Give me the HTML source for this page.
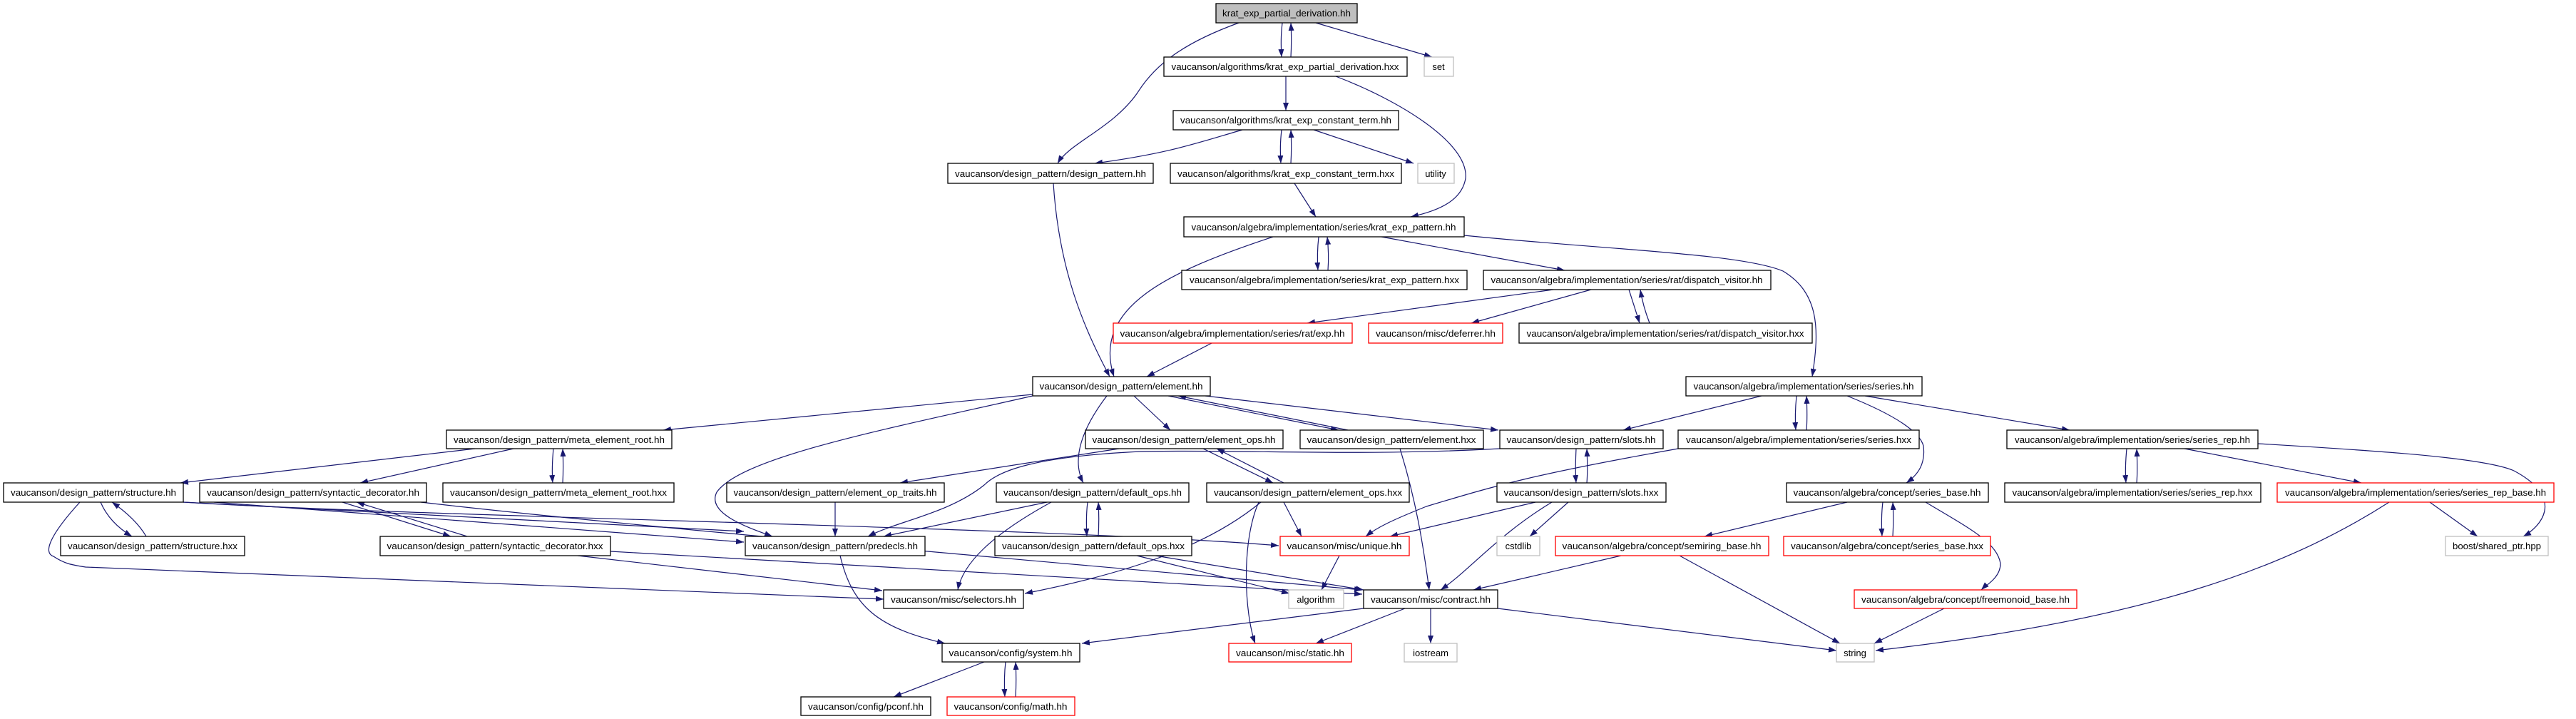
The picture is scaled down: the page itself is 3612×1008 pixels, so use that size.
<!DOCTYPE html>
<html><head><meta charset="utf-8"><style>
html,body{margin:0;padding:0;background:#fff;}
svg{display:block;}
text{font-family:"Liberation Sans",Arial,sans-serif;font-size:13px;fill:#000;}
.n{fill:#fff;stroke:#000;stroke-width:1.3;}
.r{fill:#fff;stroke:#ff0000;stroke-width:1.3;}
.g{fill:#fff;stroke:#bfbfbf;stroke-width:1.3;}
.e{fill:none;stroke:#191970;stroke-width:1.2;}
</style></head><body>
<svg width="3612" height="1008" viewBox="0 0 3612 1008" xmlns="http://www.w3.org/2000/svg">
<defs><marker id="a" markerWidth="11" markerHeight="8" refX="11" refY="4" orient="auto" markerUnits="userSpaceOnUse"><path d="M0,0 L11,4 L0,8 z" fill="#191970"/></marker></defs>
<g class="e" marker-end="url(#a)">
<path d="M1798,32 C1796,50 1796,62 1797,80"/>
<path d="M1810,80 C1811,62 1811,50 1810,32"/>
<path d="M1845,32 L2008,80"/>
<path d="M1737,32 C1660,60 1620,90 1595,130 C1560,180 1500,200 1483,229"/>
<path d="M1803,107 L1803,155"/>
<path d="M1873,107 C1960,140 2060,200 2055,250 C2050,280 2020,295 1978,304"/>
<path d="M1742,182 C1680,200 1640,215 1535,229"/>
<path d="M1797,182 C1795,200 1795,212 1796,229"/>
<path d="M1810,229 C1811,212 1811,200 1810,182"/>
<path d="M1842,182 L1982,229"/>
<path d="M1815,257 L1845,304"/>
<path d="M1477,257 C1485,380 1520,460 1556,528"/>
<path d="M1849,332 C1847,350 1847,365 1848,379"/>
<path d="M1862,379 C1863,365 1863,350 1861,332"/>
<path d="M1937,332 L2194,379"/>
<path d="M1785,332 C1640,380 1530,430 1562,528"/>
<path d="M2053,330 C2250,350 2440,355 2500,380 C2550,410 2552,460 2541,528"/>
<path d="M2178,406 L1833,453"/>
<path d="M2231,406 L2063,453"/>
<path d="M2284,406 C2290,425 2295,440 2299,453"/>
<path d="M2313,453 C2308,440 2303,425 2300,406"/>
<path d="M1699,481 L1608,528"/>
<path d="M1448,553 L930,603"/>
<path d="M1448,555 C1250,600 1040,640 1005,690 C990,720 1050,740 1083,752"/>
<path d="M1590,555 L1641,603"/>
<path d="M1552,555 C1510,610 1505,650 1519,677"/>
<path d="M1638,555 L1877,603"/>
<path d="M1890,603 L1652,555"/>
<path d="M1690,555 L2101,603"/>
<path d="M666,629 L253,677"/>
<path d="M720,629 L505,677"/>
<path d="M776,629 C774,650 774,665 775,677"/>
<path d="M789,677 C790,660 790,650 789,629"/>
<path d="M141,704 C150,725 165,740 185,752"/>
<path d="M205,752 C195,735 180,720 157,704"/>
<path d="M257,704 L1043,745"/>
<path d="M300,704 L1043,760"/>
<path d="M257,704 C600,725 1500,740 1793,765"/>
<path d="M112,704 C70,750 60,775 75,780 C90,790 100,792 120,795 L1239,840"/>
<path d="M480,704 L632,752"/>
<path d="M655,752 L500,704"/>
<path d="M590,704 C900,740 1500,790 1910,827"/>
<path d="M810,779 L1237,828"/>
<path d="M856,773 L1910,833"/>
<path d="M1569,629 L1262,677"/>
<path d="M1687,629 L1785,677"/>
<path d="M1800,677 L1706,629"/>
<path d="M2103,629 C1900,640 1750,630 1600,633 C1450,640 1400,660 1380,680 C1330,720 1260,730 1217,752"/>
<path d="M1171,704 L1171,752"/>
<path d="M1468,704 L1239,752"/>
<path d="M1474,704 C1390,750 1350,790 1343,827"/>
<path d="M1525,704 C1523,720 1523,735 1524,752"/>
<path d="M1540,752 C1541,735 1541,720 1540,704"/>
<path d="M1594,779 L1808,832"/>
<path d="M1620,779 L1912,827"/>
<path d="M1768,704 C1700,760 1600,800 1437,832"/>
<path d="M1800,704 L1825,752"/>
<path d="M1765,704 C1740,760 1745,860 1760,902"/>
<path d="M1178,779 C1195,850 1230,880 1325,902"/>
<path d="M1380,928 L1253,977"/>
<path d="M1410,928 C1408,945 1408,960 1409,977"/>
<path d="M1424,977 C1425,960 1425,945 1424,928"/>
<path d="M1912,853 L1517,902"/>
<path d="M1970,853 L1845,902"/>
<path d="M2006,853 L2006,902"/>
<path d="M2100,853 L2575,912"/>
<path d="M1963,629 C1985,700 1995,760 2004,827"/>
<path d="M2210,629 C2209,650 2209,665 2210,677"/>
<path d="M2225,677 C2226,665 2226,650 2225,629"/>
<path d="M2153,704 L1949,752"/>
<path d="M2176,704 C2100,750 2060,800 2020,827"/>
<path d="M2199,704 L2145,752"/>
<path d="M2470,555 L2276,603"/>
<path d="M2519,555 C2517,575 2517,590 2518,603"/>
<path d="M2533,603 C2534,590 2534,575 2533,555"/>
<path d="M2590,555 C2640,575 2690,600 2697,625 C2700,650 2690,665 2673,677"/>
<path d="M2615,555 L2902,603"/>
<path d="M2353,629 C2150,665 2100,680 2000,710 C1950,730 1930,740 1915,752"/>
<path d="M2590,704 L2390,752"/>
<path d="M2640,704 C2638,720 2638,735 2639,752"/>
<path d="M2654,752 C2655,735 2655,720 2654,704"/>
<path d="M2700,704 C2760,740 2800,760 2805,790 C2805,810 2785,820 2778,827"/>
<path d="M2273,779 L2066,827"/>
<path d="M2355,779 L2580,902"/>
<path d="M2726,853 L2628,902"/>
<path d="M3350,704 C3200,800 3000,870 2630,912"/>
<path d="M2982,629 C2980,650 2980,665 2981,677"/>
<path d="M2996,677 C2997,665 2997,650 2996,629"/>
<path d="M3063,629 L3311,677"/>
<path d="M3166,622 C3300,630 3480,640 3525,660 C3600,700 3560,740 3538,752"/>
<path d="M3407,704 L3474,752"/>
<path d="M1878,779 L1853,827"/>
</g>
<g>
<rect class="n" x="1705" y="5" width="198" height="27" style="fill:#bfbfbf"/><text x="1804" y="23" text-anchor="middle" textLength="180" lengthAdjust="spacingAndGlyphs">krat_exp_partial_derivation.hh</text>
<rect class="n" x="1632" y="80" width="341" height="27"/><text x="1802" y="98" text-anchor="middle" textLength="319" lengthAdjust="spacingAndGlyphs">vaucanson/algorithms/krat_exp_partial_derivation.hxx</text>
<rect class="g" x="1997" y="80" width="41" height="27"/><text x="2017" y="98" text-anchor="middle">set</text>
<rect class="n" x="1645" y="155" width="316" height="27"/><text x="1803" y="173" text-anchor="middle" textLength="296" lengthAdjust="spacingAndGlyphs">vaucanson/algorithms/krat_exp_constant_term.hh</text>
<rect class="n" x="1329" y="229" width="288" height="28"/><text x="1473" y="248" text-anchor="middle" textLength="268" lengthAdjust="spacingAndGlyphs">vaucanson/design_pattern/design_pattern.hh</text>
<rect class="n" x="1641" y="229" width="324" height="28"/><text x="1803" y="248" text-anchor="middle" textLength="304" lengthAdjust="spacingAndGlyphs">vaucanson/algorithms/krat_exp_constant_term.hxx</text>
<rect class="g" x="1988" y="229" width="51" height="28"/><text x="2013" y="248" text-anchor="middle">utility</text>
<rect class="n" x="1660" y="304" width="393" height="28"/><text x="1856" y="323" text-anchor="middle" textLength="371" lengthAdjust="spacingAndGlyphs">vaucanson/algebra/implementation/series/krat_exp_pattern.hh</text>
<rect class="n" x="1657" y="379" width="400" height="27"/><text x="1857" y="397" text-anchor="middle" textLength="378" lengthAdjust="spacingAndGlyphs">vaucanson/algebra/implementation/series/krat_exp_pattern.hxx</text>
<rect class="n" x="2080" y="379" width="403" height="27"/><text x="2281" y="397" text-anchor="middle" textLength="381" lengthAdjust="spacingAndGlyphs">vaucanson/algebra/implementation/series/rat/dispatch_visitor.hh</text>
<rect class="r" x="1561" y="453" width="335" height="28"/><text x="1728" y="472" text-anchor="middle" textLength="315" lengthAdjust="spacingAndGlyphs">vaucanson/algebra/implementation/series/rat/exp.hh</text>
<rect class="r" x="1919" y="453" width="188" height="28"/><text x="2013" y="472" text-anchor="middle" textLength="168" lengthAdjust="spacingAndGlyphs">vaucanson/misc/deferrer.hh</text>
<rect class="n" x="2130" y="453" width="411" height="28"/><text x="2335" y="472" text-anchor="middle" textLength="389" lengthAdjust="spacingAndGlyphs">vaucanson/algebra/implementation/series/rat/dispatch_visitor.hxx</text>
<rect class="n" x="1448" y="528" width="249" height="27"/><text x="1572" y="546" text-anchor="middle" textLength="229" lengthAdjust="spacingAndGlyphs">vaucanson/design_pattern/element.hh</text>
<rect class="n" x="2364" y="528" width="331" height="27"/><text x="2529" y="546" text-anchor="middle" textLength="309" lengthAdjust="spacingAndGlyphs">vaucanson/algebra/implementation/series/series.hh</text>
<rect class="n" x="626" y="603" width="316" height="26"/><text x="784" y="621" text-anchor="middle" textLength="296" lengthAdjust="spacingAndGlyphs">vaucanson/design_pattern/meta_element_root.hh</text>
<rect class="n" x="1522" y="603" width="277" height="26"/><text x="1660" y="621" text-anchor="middle" textLength="257" lengthAdjust="spacingAndGlyphs">vaucanson/design_pattern/element_ops.hh</text>
<rect class="n" x="1823" y="603" width="257" height="26"/><text x="1951" y="621" text-anchor="middle" textLength="237" lengthAdjust="spacingAndGlyphs">vaucanson/design_pattern/element.hxx</text>
<rect class="n" x="2103" y="603" width="229" height="26"/><text x="2217" y="621" text-anchor="middle" textLength="209" lengthAdjust="spacingAndGlyphs">vaucanson/design_pattern/slots.hh</text>
<rect class="n" x="2353" y="603" width="338" height="26"/><text x="2522" y="621" text-anchor="middle" textLength="316" lengthAdjust="spacingAndGlyphs">vaucanson/algebra/implementation/series/series.hxx</text>
<rect class="n" x="2814" y="603" width="352" height="26"/><text x="2990" y="621" text-anchor="middle" textLength="330" lengthAdjust="spacingAndGlyphs">vaucanson/algebra/implementation/series/series_rep.hh</text>
<rect class="n" x="5" y="677" width="252" height="27"/><text x="131" y="695" text-anchor="middle" textLength="232" lengthAdjust="spacingAndGlyphs">vaucanson/design_pattern/structure.hh</text>
<rect class="n" x="280" y="677" width="318" height="27"/><text x="439" y="695" text-anchor="middle" textLength="298" lengthAdjust="spacingAndGlyphs">vaucanson/design_pattern/syntactic_decorator.hh</text>
<rect class="n" x="621" y="677" width="324" height="27"/><text x="783" y="695" text-anchor="middle" textLength="304" lengthAdjust="spacingAndGlyphs">vaucanson/design_pattern/meta_element_root.hxx</text>
<rect class="n" x="1019" y="677" width="305" height="27"/><text x="1171" y="695" text-anchor="middle" textLength="285" lengthAdjust="spacingAndGlyphs">vaucanson/design_pattern/element_op_traits.hh</text>
<rect class="n" x="1397" y="677" width="270" height="27"/><text x="1532" y="695" text-anchor="middle" textLength="250" lengthAdjust="spacingAndGlyphs">vaucanson/design_pattern/default_ops.hh</text>
<rect class="n" x="1692" y="677" width="284" height="27"/><text x="1834" y="695" text-anchor="middle" textLength="264" lengthAdjust="spacingAndGlyphs">vaucanson/design_pattern/element_ops.hxx</text>
<rect class="n" x="2099" y="677" width="237" height="27"/><text x="2217" y="695" text-anchor="middle" textLength="217" lengthAdjust="spacingAndGlyphs">vaucanson/design_pattern/slots.hxx</text>
<rect class="n" x="2505" y="677" width="283" height="27"/><text x="2646" y="695" text-anchor="middle" textLength="263" lengthAdjust="spacingAndGlyphs">vaucanson/algebra/concept/series_base.hh</text>
<rect class="n" x="2811" y="677" width="359" height="27"/><text x="2990" y="695" text-anchor="middle" textLength="337" lengthAdjust="spacingAndGlyphs">vaucanson/algebra/implementation/series/series_rep.hxx</text>
<rect class="r" x="3193" y="677" width="388" height="27"/><text x="3387" y="695" text-anchor="middle" textLength="366" lengthAdjust="spacingAndGlyphs">vaucanson/algebra/implementation/series/series_rep_base.hh</text>
<rect class="n" x="85" y="752" width="258" height="27"/><text x="214" y="770" text-anchor="middle" textLength="238" lengthAdjust="spacingAndGlyphs">vaucanson/design_pattern/structure.hxx</text>
<rect class="n" x="533" y="752" width="323" height="27"/><text x="694" y="770" text-anchor="middle" textLength="303" lengthAdjust="spacingAndGlyphs">vaucanson/design_pattern/syntactic_decorator.hxx</text>
<rect class="n" x="1045" y="752" width="252" height="27"/><text x="1171" y="770" text-anchor="middle" textLength="232" lengthAdjust="spacingAndGlyphs">vaucanson/design_pattern/predecls.hh</text>
<rect class="n" x="1395" y="752" width="276" height="27"/><text x="1533" y="770" text-anchor="middle" textLength="256" lengthAdjust="spacingAndGlyphs">vaucanson/design_pattern/default_ops.hxx</text>
<rect class="r" x="1795" y="752" width="181" height="27"/><text x="1885" y="770" text-anchor="middle" textLength="161" lengthAdjust="spacingAndGlyphs">vaucanson/misc/unique.hh</text>
<rect class="g" x="2099" y="752" width="60" height="27"/><text x="2129" y="770" text-anchor="middle">cstdlib</text>
<rect class="r" x="2181" y="752" width="299" height="27"/><text x="2330" y="770" text-anchor="middle" textLength="279" lengthAdjust="spacingAndGlyphs">vaucanson/algebra/concept/semiring_base.hh</text>
<rect class="r" x="2501" y="752" width="290" height="27"/><text x="2646" y="770" text-anchor="middle" textLength="270" lengthAdjust="spacingAndGlyphs">vaucanson/algebra/concept/series_base.hxx</text>
<rect class="g" x="3429" y="752" width="144" height="27"/><text x="3501" y="770" text-anchor="middle" textLength="124" lengthAdjust="spacingAndGlyphs">boost/shared_ptr.hpp</text>
<rect class="n" x="1239" y="827" width="196" height="26"/><text x="1337" y="845" text-anchor="middle" textLength="176" lengthAdjust="spacingAndGlyphs">vaucanson/misc/selectors.hh</text>
<rect class="g" x="1807" y="827" width="77" height="26"/><text x="1845" y="845" text-anchor="middle">algorithm</text>
<rect class="n" x="1912" y="827" width="188" height="26"/><text x="2006" y="845" text-anchor="middle" textLength="168" lengthAdjust="spacingAndGlyphs">vaucanson/misc/contract.hh</text>
<rect class="r" x="2600" y="827" width="312" height="26"/><text x="2756" y="845" text-anchor="middle" textLength="292" lengthAdjust="spacingAndGlyphs">vaucanson/algebra/concept/freemonoid_base.hh</text>
<rect class="n" x="1321" y="902" width="193" height="26"/><text x="1417" y="920" text-anchor="middle" textLength="173" lengthAdjust="spacingAndGlyphs">vaucanson/config/system.hh</text>
<rect class="r" x="1723" y="902" width="172" height="26"/><text x="1809" y="920" text-anchor="middle" textLength="152" lengthAdjust="spacingAndGlyphs">vaucanson/misc/static.hh</text>
<rect class="g" x="1969" y="902" width="74" height="26"/><text x="2006" y="920" text-anchor="middle">iostream</text>
<rect class="g" x="2575" y="902" width="53" height="26"/><text x="2601" y="920" text-anchor="middle">string</text>
<rect class="n" x="1123" y="977" width="182" height="26"/><text x="1214" y="995" text-anchor="middle" textLength="162" lengthAdjust="spacingAndGlyphs">vaucanson/config/pconf.hh</text>
<rect class="r" x="1328" y="977" width="179" height="26"/><text x="1417" y="995" text-anchor="middle" textLength="159" lengthAdjust="spacingAndGlyphs">vaucanson/config/math.hh</text>
</g>
</svg>
</body></html>
